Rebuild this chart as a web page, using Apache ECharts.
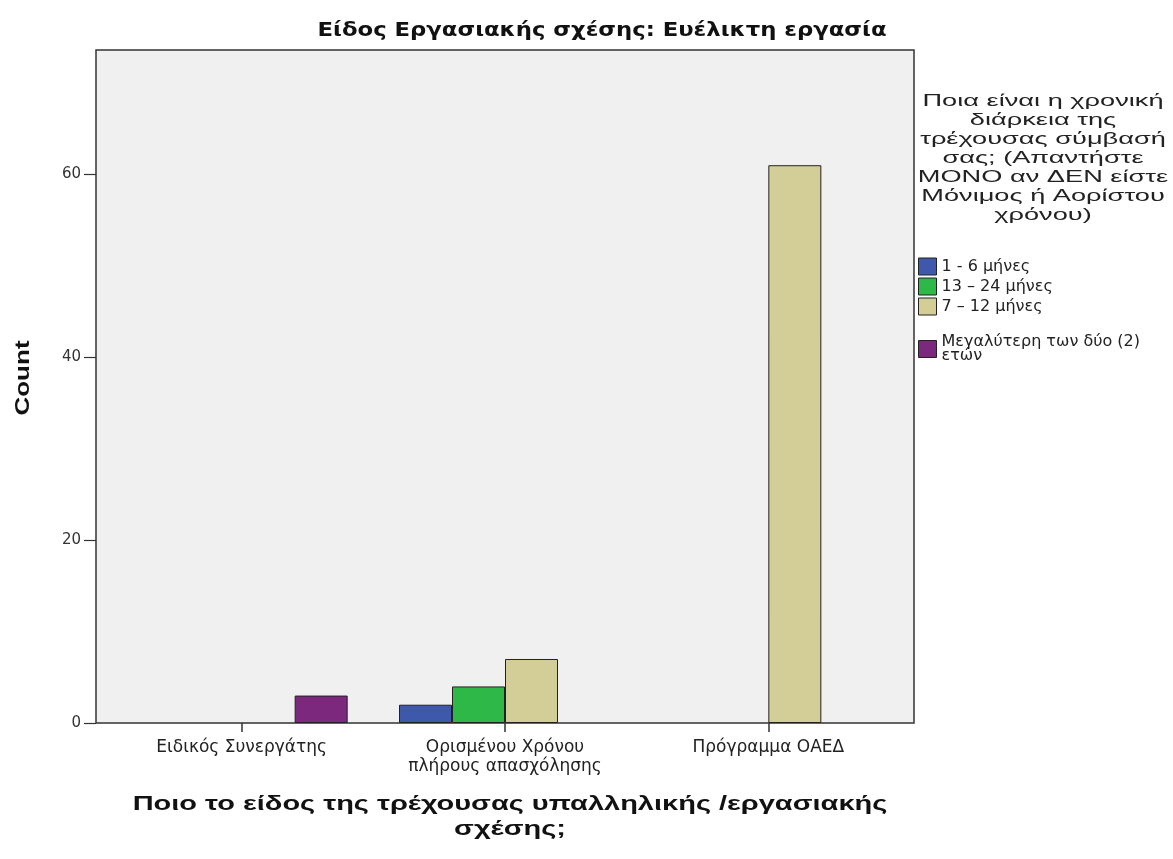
<!DOCTYPE html>
<html><head><meta charset="utf-8">
<script src="https://cdn.jsdelivr.net/npm/echarts@6/dist/echarts.min.js"></script>
<style>html,body{margin:0;padding:0;background:#fff}#c{width:1173px;height:859px}</style>
</head><body><div id="c"></div>
<script>
const categories = ['Ειδικός Συνεργάτης', 'Ορισμένου Χρόνου\nπλήρους απασχόλησης', 'Πρόγραμμα ΟΑΕΔ'];
const seriesNames = ['1 - 6 μήνες', '13 – 24 μήνες', '7 – 12 μήνες', 'Μεγαλύτερη των δύο (2)\nετών'];
const s1to6 = [null, 2, null];
const s13to24 = [null, 4, null];
const s7to12 = [null, 7, 61];
const sOver2 = [3, null, null];
const yTicks = [0, 20, 40, 60];
const yMax = 73.6;
const colors = ['#3E58AC', '#2EB848', '#D3CE97', '#7C287D'];
const chartTitle = 'Είδος Εργασιακής σχέσης: Ευέλικτη εργασία';
const legendTitle = 'Ποια είναι η χρονική\nδιάρκεια της\nτρέχουσας σύμβασή\nσας; (Απαντήστε\nΜΟΝΟ αν ΔΕΝ είστε\nΜόνιμος ή Αορίστου\nχρόνου)';
const xTitle = 'Ποιο το είδος της τρέχουσας υπαλληλικής /εργασιακής\nσχέσης;';
const yTitle = 'Count';

const chart = echarts.init(document.getElementById('c'));
const values = [s1to6, s13to24, s7to12, sOver2];
const FONT = '"Liberation Sans", Arial, sans-serif';
const WIDE = '"DejaVu Sans", sans-serif';
function txt(text, x, y, opts) {
  return Object.assign({type: 'text', x: x, y: y, silent: true, z: 5,
    style: Object.assign({text: text, x: 0, y: 0, align: 'center', textAlign: 'center',
      verticalAlign: 'middle', textVerticalAlign: 'middle', fill: '#111'}, opts.style)}, opts.el || {});
}
const legendBase = {orient: 'vertical', left: 913, itemWidth: 18, itemHeight: 17, itemGap: 1,
  icon: 'rect', itemStyle: {borderColor: '#222', borderWidth: 1}};
chart.setOption({
  animation: false,
  textStyle: {fontFamily: FONT},
  graphic: [
    {type: 'rect', z: -10, silent: true,
     shape: {x: 96, y: 50, width: 818, height: 673},
     style: {fill: '#F0F0F0', stroke: '#333', lineWidth: 1.5}},
    txt(chartTitle, 602, 31, {el: {scaleX: 1.33},
      style: {font: 'bold 19px "DejaVu Sans Condensed", "DejaVu Sans", sans-serif', fill: '#111'}}),
    txt(legendTitle, 1043, 92, {el: {scaleX: 1.6},
      style: {font: '17px ' + FONT, lineHeight: 19, verticalAlign: 'top', textVerticalAlign: 'top', fill: '#222'}}),
    txt(xTitle, 510, 817, {el: {scaleX: 1.38},
      style: {font: 'bold 21px ' + FONT, lineHeight: 25, fill: '#111'}}),
    txt(yTitle, 23, 378, {el: {scaleX: 1.3, rotation: Math.PI / 2},
      style: {font: 'bold 20px ' + FONT, fill: '#111'}})
  ],
  legend: [
    Object.assign({}, legendBase, {top: 252, data: seriesNames.slice(0, 3),
      textStyle: {fontSize: 16, color: '#222', lineHeight: 19, fontFamily: WIDE}}),
    Object.assign({}, legendBase, {top: 329, data: seriesNames.slice(3),
      textStyle: {fontSize: 16, color: '#222', lineHeight: 14, fontFamily: WIDE}})
  ],
  grid: {left: 110, right: 273, top: 50, bottom: 136, containLabel: false},
  xAxis: {type: 'category', data: categories,
    axisLine: {show: false},
    axisTick: {show: true, alignWithLabel: true, length: 9, lineStyle: {color: '#333', width: 1.5}},
    axisLabel: {fontSize: 17, color: '#222', lineHeight: 19, margin: 15, interval: 0, fontFamily: WIDE}},
  yAxis: {type: 'value', min: 0, max: yMax, interval: 20, offset: 14,
    splitLine: {show: false},
    axisLine: {show: false},
    axisTick: {show: true, length: 12, customValues: yTicks, lineStyle: {color: '#333', width: 1.2}},
    axisLabel: {fontSize: 15, color: '#333', margin: 15, customValues: yTicks, fontFamily: WIDE}},
  series: seriesNames.map((n, i) => ({
    name: n, type: 'bar', data: values[i], barWidth: 53, barGap: '0%',
    itemStyle: {color: colors[i], borderColor: '#222', borderWidth: 1}
  }))
});
</script></body></html>
